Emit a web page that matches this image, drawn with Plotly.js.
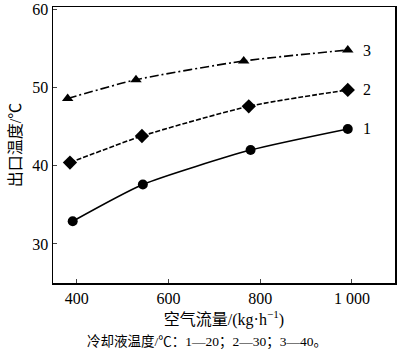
<!DOCTYPE html>
<html><head><meta charset="utf-8">
<script src="https://cdn.plot.ly/plotly-3.0.1.min.js"></script>
<style>html,body{margin:0;padding:0;background:#fff}#chart{width:400px;height:356px}</style>
</head><body><div id="chart"></div>
<script>
const x1 = [391, 544, 779, 991];
const y1 = [32.9, 37.6, 42.0, 44.7];
const x2 = [385, 542, 775, 991];
const y2 = [40.4, 43.8, 47.6, 49.7];
const x3 = [380, 529, 764, 991];
const y3 = [48.6, 51.0, 53.4, 54.8];
const seriesLabels = ['1', '2', '3'];
const xTicks = [400, 600, 800, 1000];
const xTickText = ['400', '600', '800', '1 000'];
const yTicks = [30, 40, 50, 60];
const yTickText = ['30', '40', '50', '60'];
const xTitle = '空气流量/(kg·h<sup>−1</sup>)';
const yTitle = '出口温度/℃';
const note = '冷却液温度/℃：1—20；2—30；3—40。';

const F = '"Liberation Serif", "Times New Roman", "Noto Sans CJK SC", serif';
const mk = (x, y, sym, size, dash) => ({
  x, y, type: 'scatter', mode: 'lines+markers',
  line: {color: '#000', width: 1.6, dash, shape: 'spline', smoothing: 0.6},
  marker: {color: '#000', symbol: sym, size},
  showlegend: false, hoverinfo: 'skip'
});
const data = [
  mk(x1, y1, 'circle', 10, 'solid'),
  mk(x2, y2, 'diamond', 11, '5px,2px'),
  mk(x3, y3, 'triangle-up', 10, '9px,3px,2px,3px')
];
const ann = [
  {x: x1[3], y: y1[3], text: seriesLabels[0]},
  {x: x2[3], y: y2[3], text: seriesLabels[1]},
  {x: x3[3], y: y3[3], text: seriesLabels[2]}
].map(a => Object.assign(a, {xref: 'x', yref: 'y', showarrow: false, xanchor: 'left', xshift: 13, font: {family: F, size: 16, color: '#000'}}));
ann.push({xref: 'paper', yref: 'paper', x: 0.45, y: -0.215, yanchor: 'middle', xanchor: 'center', showarrow: false,
  text: note, font: {family: F, size: 13.5, color: '#000'}});
const layout = {
  width: 400, height: 356,
  margin: {l: 53, r: 5, t: 7, b: 73},
  paper_bgcolor: '#fff', plot_bgcolor: '#fff',
  font: {family: F, color: '#000'},
  xaxis: {range: [348, 1094], tickvals: xTicks, ticktext: xTickText, ticks: 'inside', ticklen: 4, tickwidth: 1,
    showline: true, mirror: true, linecolor: '#000', linewidth: 1.5, showgrid: false, zeroline: false,
    tickfont: {family: F, size: 16, color: '#000'},
    title: {text: xTitle, font: {family: F, size: 16, color: '#000'}, standoff: 8}},
  yaxis: {range: [25, 60.3], tickvals: yTicks, ticktext: yTickText, ticks: 'inside', ticklen: 4, tickwidth: 1,
    showline: true, mirror: true, linecolor: '#000', linewidth: 1.5, showgrid: false, zeroline: false,
    tickfont: {family: F, size: 16, color: '#000'},
    title: {text: yTitle, font: {family: F, size: 16, color: '#000'}, standoff: 6}},
  annotations: ann
};
Plotly.newPlot('chart', data, layout, {displayModeBar: false, staticPlot: true});
</script></body></html>
